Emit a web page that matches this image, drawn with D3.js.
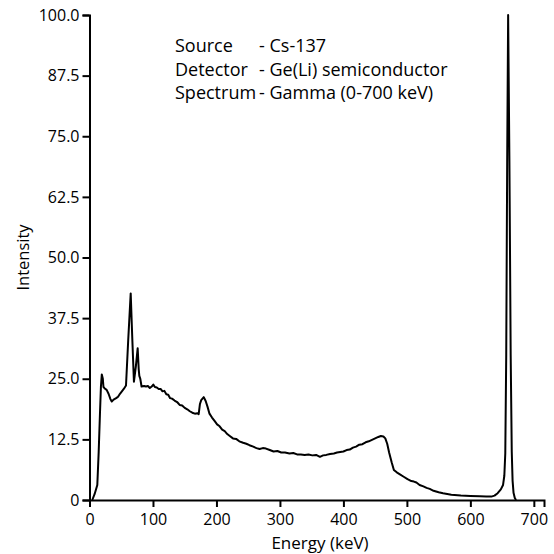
<!DOCTYPE html>
<html>
<head>
<meta charset="utf-8">
<script src="https://cdn.jsdelivr.net/npm/d3@7"></script>
<style>
  body { margin: 0; background: #fff; }
  text { font-family: "Open Sans", sans-serif; fill: #000; }
</style>
</head>
<body>
<div id="chart"></div>
<script>
// spectrum: energy (keV) and intensity
const energy = [4.4, 8, 12.3, 14.5, 16.5, 18, 19.4, 21, 22, 24, 27, 30, 33, 35, 38, 42, 45, 48, 51, 54, 57.5,
  61, 64.9, 67.5, 70, 73, 75.9, 77.5, 78.5, 80, 82, 86, 89, 92, 95, 98, 100.5, 103, 106, 109, 112, 115, 118,
  121, 124, 127, 130, 134, 138, 142, 146, 150, 154, 158, 162, 166, 170, 172, 174, 176, 180, 183, 186, 189,
  193, 197, 201, 205, 209, 213, 217, 221, 226, 231, 236, 242, 247, 252, 258, 263, 268, 273, 278, 284, 290,
  296, 302, 308, 315, 321, 327, 333, 339, 345, 351, 357, 363, 368, 373, 379, 385, 390, 395, 400, 405, 410,
  415, 420, 425, 430, 435, 440, 445, 450, 455, 459, 463, 466, 469, 472, 476, 479.5, 484, 489, 495, 501, 507,
  511, 515, 520, 526, 531, 536, 542, 550, 557, 570, 585, 600, 615, 625, 633, 638, 643, 648, 651.5, 653.5,
  655, 656.5, 658, 659.5, 661.5, 663.5, 665.2, 666.5, 668, 670, 672]
const intensity = [0, 1.2, 3.1, 10, 17.9, 23.4, 25.9, 25, 23.3, 23.0, 22.7, 21.9, 20.8, 20.3, 20.7, 21, 21.3,
  21.9, 22.4, 22.9, 23.6, 33, 42.6, 33, 24.4, 27.5, 31.3, 27, 25.6, 25, 23.4, 23.5, 23.4, 23.5, 23.1, 23.4,
  23.8, 23.3, 23.2, 22.9, 22.9, 22.4, 22.5, 21.8, 21.7, 21.0, 20.9, 20.5, 20.2, 19.6, 19.5, 19.0, 18.7, 18.3,
  18.0, 17.8, 17.9, 17.7, 19.8, 20.6, 21.2, 20.4, 19.2, 17.8, 17.0, 16.3, 15.6, 15.2, 14.5, 14.2, 13.6, 13.2,
  12.7, 12.6, 12.1, 11.8, 11.6, 11.3, 11.0, 10.7, 10.5, 10.7, 10.6, 10.3, 10.0, 10.1, 9.8, 9.8, 9.6, 9.7, 9.4,
  9.4, 9.3, 9.4, 9.2, 9.3, 8.9, 9.2, 9.3, 9.5, 9.6, 9.8, 9.9, 10.0, 10.3, 10.4, 10.8, 11.0, 11.4, 11.5, 11.9,
  12.1, 12.4, 12.7, 13.0, 13.2, 13.1, 12.7, 11.6, 9.8, 7.8, 6.2, 5.7, 5.3, 4.8, 4.3, 3.9, 3.8, 3.6, 3.1, 2.8,
  2.5, 2.3, 1.9, 1.6, 1.4, 1.1, 0.95, 0.85, 0.75, 0.7, 0.7, 0.9, 1.4, 2.2, 3.1, 5, 9.6, 30, 70, 100, 70, 30,
  10, 4, 1.5, 0.4, 0]

const xTicks = [0, 100, 200, 300, 400, 500, 600, 700]
const yTicks = [0, 12.5, 25, 37.5, 50, 62.5, 75, 87.5, 100]
const infoLabels = ["Source", "Detector", "Spectrum"]
const infoValues = ["- Cs-137", "- Ge(Li) semiconductor", "- Gamma (0-700 keV)"]

const svgWidth = 554, svgHeight = 554
const margin = {left: 89.5, top: 15}
const width = 454.5, height = 485

let svg = d3.select('#chart')
    .append('svg')
    .attr('width', svgWidth)
    .attr('height', svgHeight)

let chart = svg.append('g')
    .attr("transform", "translate(" + margin.left + "," + margin.top + ")")

let xScale = d3.scaleLinear().domain([0, 716]).range([0, width])
let yScale = d3.scaleLinear().domain([0, 100]).range([height, 0])

let data = energy.map((e, i) => ({e: e, v: intensity[i]}))

chart.append("path")
    .datum(data)
    .attr("fill", "none")
    .attr("stroke", "#000")
    .attr("stroke-width", 2)
    .attr("stroke-linejoin", "round")
    .attr("d", d3.line().x(d => xScale(d.e)).y(d => yScale(d.v)))

// axes
chart.append("g")
    .attr("transform", `translate(0,${height})`)
    .call(d3.axisBottom(xScale).tickValues(xTicks).tickSizeOuter(0).tickSize(7).tickPadding(7))

chart.append("g")
    .call(d3.axisLeft(yScale).tickValues(yTicks).tickSizeOuter(0).tickSize(7).tickPadding(3)
        .tickFormat(d => d === 0 ? "0" : d3.format(".1f")(d)))

chart.selectAll(".domain, .tick line")
    .attr("stroke", "#000")
    .attr("stroke-width", 2)

chart.selectAll(".tick text")
    .style("font-family", "'Open Sans', sans-serif")
    .style("font-size", "16px")

// axis titles
svg.append("text")
    .attr("x", 320)
    .attr("y", 549)
    .attr("text-anchor", "middle")
    .style("font-size", "17px")
    .text("Energy (keV)")

svg.append("text")
    .attr("transform", `translate(29,${margin.top + height / 2}) rotate(-90)`)
    .attr("text-anchor", "middle")
    .style("font-size", "16.5px")
    .text("Intensity")

// info block
let info = svg.append("g")
infoLabels.forEach((t, i) => {
    info.append("text")
        .attr("x", 175)
        .attr("y", 52 + i * 23.5)
        .style("font-size", "18px")
        .text(t)
    info.append("text")
        .attr("x", 259)
        .attr("y", 52 + i * 23.5)
        .style("font-size", "18px")
        .text(infoValues[i])
})
</script>
</body>
</html>
